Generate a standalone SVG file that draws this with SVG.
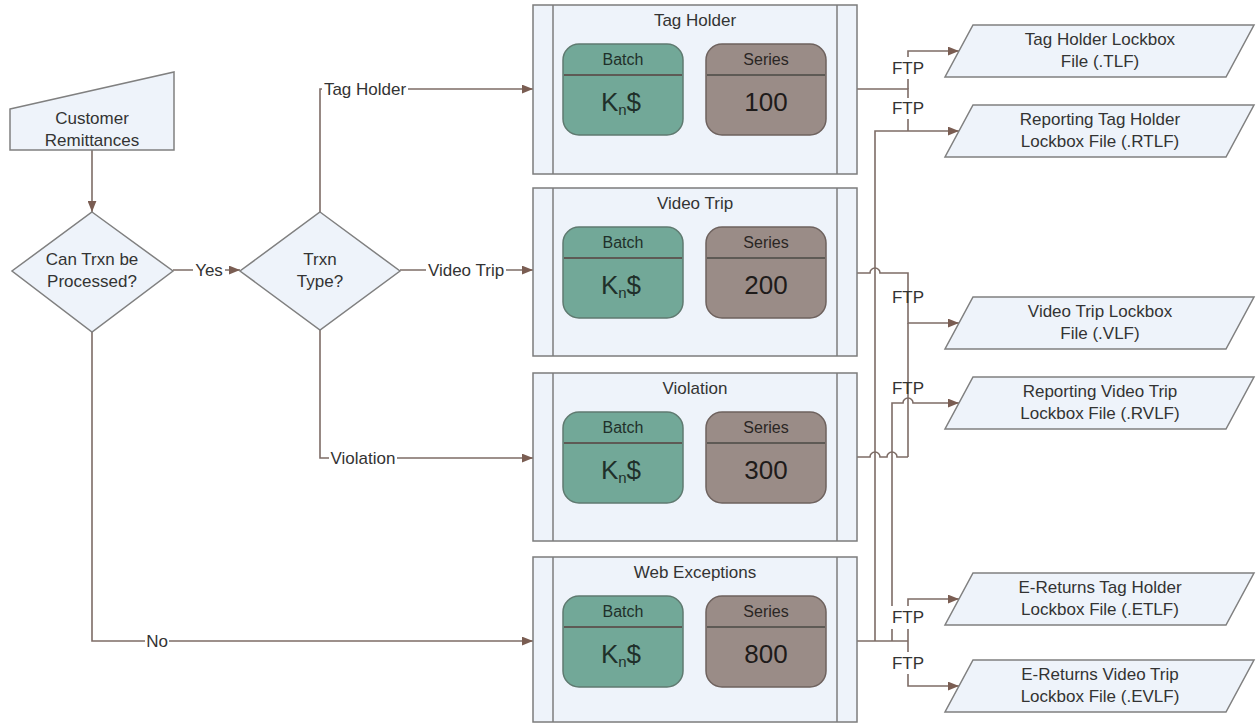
<svg xmlns="http://www.w3.org/2000/svg" width="1256" height="724" viewBox="0 0 1256 724">
<defs>
<marker id="arr" viewBox="0 0 10 8" refX="10" refY="4" markerWidth="11" markerHeight="9" markerUnits="userSpaceOnUse" orient="auto">
<path d="M0,0 L10,4 L0,8 z" fill="#7a5d52"/>
</marker>
</defs>
<style>
text{font-family:"Liberation Sans",Arial,sans-serif;fill:#333;}
.shape{fill:#eef3fa;stroke:#808080;stroke-width:1.5;}
.cont{fill:#eef3fa;stroke:#7c7c7c;stroke-width:1.5;}
.inner{stroke:#7c7c7c;stroke-width:1.5;}
.batch{fill:#72a898;stroke:#5f7a70;stroke-width:1.5;}
.series{fill:#9a8c87;stroke:#6e625e;stroke-width:1.5;}
.div{stroke:#5e5a55;stroke-width:2;}
.conn{fill:none;stroke:#7d6c66;stroke-width:1.6;}
.arrow{marker-end:url(#arr);}
.t{font-size:17px;text-anchor:middle;}
.s{font-size:16px;text-anchor:middle;}
.big{font-size:26px;text-anchor:middle;}
.bg{fill:#ffffff;}
</style>
<rect width="1256" height="724" fill="#ffffff"/>

<g id="connectors">
<path class="conn arrow" d="M92,150 V212"/>
<path class="conn arrow" d="M173,270 H240"/>
<path class="conn arrow" d="M320,212 V89 H533"/>
<path class="conn arrow" d="M400,270 H533"/>
<path class="conn arrow" d="M320,330 V458 H533"/>
<path class="conn arrow" d="M92,332 V641 H533"/>

<path class="conn" d="M857,89 H908 V131"/>
<path class="conn arrow" d="M908,89 V51 H959"/>
<path class="conn arrow" d="M875,641 V131 H959"/>
<path class="conn arrow" d="M857,273 H870 A5,5 0 0 1 880,273 H908 V323 H959"/>
<path class="conn" d="M908,323 V457"/>
<path class="conn" d="M857,457 H870 A5,5 0 0 1 880,457 H887 A5,5 0 0 1 897,457 H908"/>
<path class="conn arrow" d="M892,641 V403 H903 A5,5 0 0 1 913,403 H959"/>
<path class="conn" d="M857,641 H908"/>
<path class="conn arrow" d="M908,641 V599 H959"/>
<path class="conn arrow" d="M908,641 V686 H959"/>

<rect class="bg" x="193" y="261" width="32" height="18"/>
<text class="t" x="209" y="276">Yes</text>
<rect class="bg" x="322" y="80" width="86" height="18"/>
<text class="t" x="365" y="95">Tag Holder</text>
<rect class="bg" x="426" y="261" width="80" height="18"/>
<text class="t" x="466" y="276">Video Trip</text>
<rect class="bg" x="329" y="449" width="68" height="18"/>
<text class="t" x="363" y="464">Violation</text>
<rect class="bg" x="145" y="632" width="24" height="18"/>
<text class="t" x="157" y="647">No</text>

<rect class="bg" x="891" y="57" width="34" height="22"/>
<text class="t" x="908" y="74">FTP</text>
<rect class="bg" x="891" y="98" width="34" height="21"/>
<text class="t" x="908" y="114">FTP</text>
<text class="t" x="908" y="303">FTP</text>
<text class="t" x="908" y="394">FTP</text>
<rect class="bg" x="891" y="606" width="34" height="23"/>
<text class="t" x="908" y="623">FTP</text>
<rect class="bg" x="891" y="652" width="34" height="22"/>
<text class="t" x="908" y="669">FTP</text>
</g>

<g id="customer-remittances">
<polygon class="shape" points="10,109 174,72 174,150 10,150"/>
<text class="t" x="92" y="124">Customer</text>
<text class="t" x="92" y="146">Remittances</text>
</g>

<g id="can-trxn">
<polygon class="shape" points="92,212 173,271 92,332 12,271"/>
<text class="t" x="92" y="265">Can Trxn be</text>
<text class="t" x="92" y="287">Processed?</text>
</g>

<g id="trxn-type">
<polygon class="shape" points="320,212 400,271 320,330 240,271"/>
<text class="t" x="320" y="265">Trxn</text>
<text class="t" x="320" y="287">Type?</text>
</g>

<g id="tag-holder">
<rect class="cont" x="533" y="5" width="324" height="169"/>
<line class="inner" x1="553" y1="5" x2="553" y2="174"/>
<line class="inner" x1="837" y1="5" x2="837" y2="174"/>
<text class="t" x="695" y="26">Tag Holder</text>
<rect class="batch" x="563" y="44" width="120" height="91" rx="16"/>
<line class="div" x1="564" y1="75" x2="682" y2="75"/>
<text class="s" x="623" y="65" style="fill:#1f302a">Batch</text>
<text class="big" x="621" y="111" style="fill:#1f302a">K<tspan font-size="15" dy="4">n</tspan><tspan dy="-4">$</tspan></text>
<rect class="series" x="706" y="44" width="120" height="91" rx="16"/>
<line class="div" x1="707" y1="75" x2="825" y2="75"/>
<text class="s" x="766" y="65" style="fill:#2a2624">Series</text>
<text class="big" x="766" y="111" style="fill:#1e1b1a">100</text>
</g>

<g id="video-trip">
<rect class="cont" x="533" y="188" width="324" height="168"/>
<line class="inner" x1="553" y1="188" x2="553" y2="356"/>
<line class="inner" x1="837" y1="188" x2="837" y2="356"/>
<text class="t" x="695" y="209">Video Trip</text>
<rect class="batch" x="563" y="227" width="120" height="91" rx="16"/>
<line class="div" x1="564" y1="258" x2="682" y2="258"/>
<text class="s" x="623" y="248" style="fill:#1f302a">Batch</text>
<text class="big" x="621" y="294" style="fill:#1f302a">K<tspan font-size="15" dy="4">n</tspan><tspan dy="-4">$</tspan></text>
<rect class="series" x="706" y="227" width="120" height="91" rx="16"/>
<line class="div" x1="707" y1="258" x2="825" y2="258"/>
<text class="s" x="766" y="248" style="fill:#2a2624">Series</text>
<text class="big" x="766" y="294" style="fill:#1e1b1a">200</text>
</g>

<g id="violation">
<rect class="cont" x="533" y="373" width="324" height="168"/>
<line class="inner" x1="553" y1="373" x2="553" y2="541"/>
<line class="inner" x1="837" y1="373" x2="837" y2="541"/>
<text class="t" x="695" y="394">Violation</text>
<rect class="batch" x="563" y="412" width="120" height="91" rx="16"/>
<line class="div" x1="564" y1="443" x2="682" y2="443"/>
<text class="s" x="623" y="433" style="fill:#1f302a">Batch</text>
<text class="big" x="621" y="479" style="fill:#1f302a">K<tspan font-size="15" dy="4">n</tspan><tspan dy="-4">$</tspan></text>
<rect class="series" x="706" y="412" width="120" height="91" rx="16"/>
<line class="div" x1="707" y1="443" x2="825" y2="443"/>
<text class="s" x="766" y="433" style="fill:#2a2624">Series</text>
<text class="big" x="766" y="479" style="fill:#1e1b1a">300</text>
</g>

<g id="web-exceptions">
<rect class="cont" x="533" y="557" width="324" height="165"/>
<line class="inner" x1="553" y1="557" x2="553" y2="722"/>
<line class="inner" x1="837" y1="557" x2="837" y2="722"/>
<text class="t" x="695" y="578">Web Exceptions</text>
<rect class="batch" x="563" y="596" width="120" height="91" rx="16"/>
<line class="div" x1="564" y1="627" x2="682" y2="627"/>
<text class="s" x="623" y="617" style="fill:#1f302a">Batch</text>
<text class="big" x="621" y="663" style="fill:#1f302a">K<tspan font-size="15" dy="4">n</tspan><tspan dy="-4">$</tspan></text>
<rect class="series" x="706" y="596" width="120" height="91" rx="16"/>
<line class="div" x1="707" y1="627" x2="825" y2="627"/>
<text class="s" x="766" y="617" style="fill:#2a2624">Series</text>
<text class="big" x="766" y="663" style="fill:#1e1b1a">800</text>
</g>

<g id="tlf">
<polygon class="shape" points="973,25 1254,25 1226,77 945,77"/>
<text class="t" x="1100" y="45">Tag Holder Lockbox</text>
<text class="t" x="1100" y="67">File (.TLF)</text>
</g>
<g id="rtlf">
<polygon class="shape" points="973,105 1254,105 1226,157 945,157"/>
<text class="t" x="1100" y="125">Reporting Tag Holder</text>
<text class="t" x="1100" y="147">Lockbox File (.RTLF)</text>
</g>
<g id="vlf">
<polygon class="shape" points="973,297 1254,297 1226,349 945,349"/>
<text class="t" x="1100" y="317">Video Trip Lockbox</text>
<text class="t" x="1100" y="339">File (.VLF)</text>
</g>
<g id="rvlf">
<polygon class="shape" points="973,377 1254,377 1226,429 945,429"/>
<text class="t" x="1100" y="397">Reporting Video Trip</text>
<text class="t" x="1100" y="419">Lockbox File (.RVLF)</text>
</g>
<g id="etlf">
<polygon class="shape" points="973,573 1254,573 1226,625 945,625"/>
<text class="t" x="1100" y="593">E-Returns Tag Holder</text>
<text class="t" x="1100" y="615">Lockbox File (.ETLF)</text>
</g>
<g id="evlf">
<polygon class="shape" points="973,660 1254,660 1226,712 945,712"/>
<text class="t" x="1100" y="680">E-Returns Video Trip</text>
<text class="t" x="1100" y="702">Lockbox File (.EVLF)</text>
</g>
</svg>
